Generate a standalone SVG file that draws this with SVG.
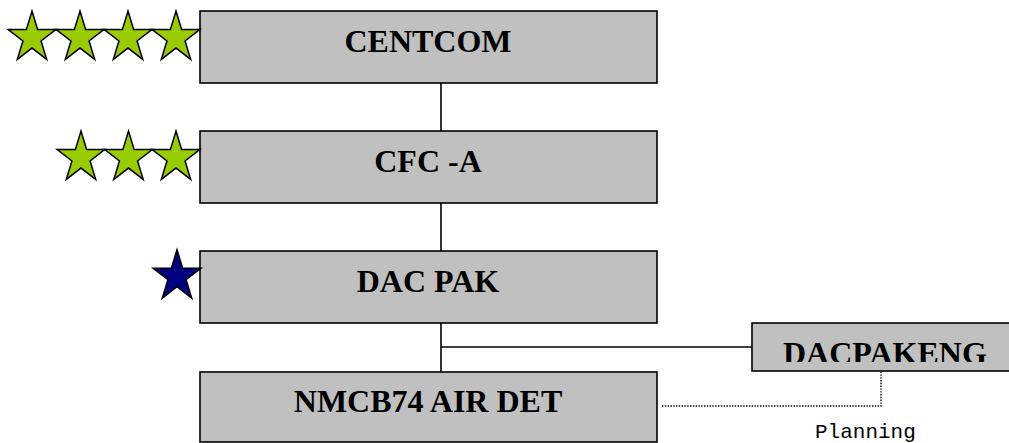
<svg xmlns="http://www.w3.org/2000/svg" width="1009" height="443" viewBox="0 0 1009 443">
<style>
.box{fill:#C0C0C0;stroke:#000;stroke-width:1.6}
.lbl{font-family:"Liberation Serif","Times New Roman",serif;font-weight:bold;font-size:32px;fill:#000}
.star{stroke:#000;stroke-width:1.5;stroke-linejoin:miter}
.g{fill:#99CC00}
.n{fill:#000080}
.ln{stroke:#000;stroke-width:1.6;fill:none}
.dot{stroke:#000;stroke-width:1.4;fill:none;stroke-dasharray:1.4,1.4}
.mono{font-family:"Liberation Mono","Courier New",monospace;font-size:21px;fill:#000}
</style>
<defs>
<path id="st" d="M0,-25 L5.61,-7.73 L23.78,-7.73 L9.08,2.95 L14.69,20.23 L0,9.55 L-14.69,20.23 L-9.08,2.95 L-23.78,-7.73 L-5.61,-7.73 Z" transform="scale(1,1.07)"/>
<clipPath id="clipEng"><rect x="752" y="323" width="257" height="39"/></clipPath>
</defs>
<g id="connectors">
<line class="ln" x1="441" y1="83" x2="441" y2="131"/>
<line class="ln" x1="441" y1="203" x2="441" y2="251"/>
<line class="ln" x1="441" y1="323" x2="441" y2="372"/>
<line class="ln" x1="441" y1="347" x2="752" y2="347"/>
<polyline class="dot" points="662,406 881,406 881,372"/>
</g>
<g id="centcom">
<rect class="box" x="200" y="11" width="457" height="72"/>
<text class="lbl" x="428" y="52" text-anchor="middle">CENTCOM</text>
</g>
<g id="stars4">
<use href="#st" class="star g" x="32" y="37.8"/>
<use href="#st" class="star g" x="80" y="37.8"/>
<use href="#st" class="star g" x="128" y="37.8"/>
<use href="#st" class="star g" x="176" y="37.8"/>
</g>
<g id="cfca">
<rect class="box" x="200" y="131" width="457" height="72"/>
<text class="lbl" x="428" y="172" text-anchor="middle">CFC -A</text>
</g>
<g id="stars3">
<use href="#st" class="star g" x="81" y="157.8"/>
<use href="#st" class="star g" x="128.5" y="157.8"/>
<use href="#st" class="star g" x="176" y="157.8"/>
</g>
<g id="dacpak">
<rect class="box" x="200" y="251" width="457" height="72"/>
<text class="lbl" x="428" y="292" text-anchor="middle">DAC PAK</text>
</g>
<g id="star1">
<use href="#st" class="star n" x="177" y="276.5"/>
</g>
<g id="dacpakeng">
<rect class="box" x="752" y="323" width="262" height="48"/>
<text class="lbl" x="783" y="364" clip-path="url(#clipEng)">DACPAKENG</text>
</g>
<g id="nmcb">
<rect class="box" x="200" y="372" width="457" height="70"/>
<text class="lbl" x="428" y="412" text-anchor="middle">NMCB74 AIR DET</text>
</g>
<g id="planning">
<text class="mono" x="815" y="438">Planning</text>
</g>
</svg>
